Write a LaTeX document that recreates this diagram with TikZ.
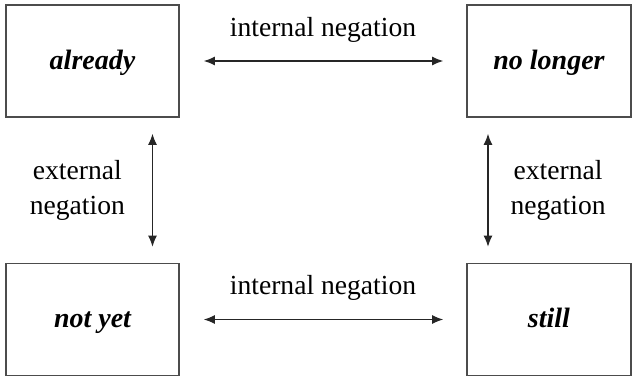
\documentclass[tikz,border=0pt]{standalone}
\usepackage{fontspec}
\setmainfont{Liberation Serif}
\usetikzlibrary{arrows.meta}

\begin{document}
\begin{tikzpicture}[x=0.5pt,y=-0.5pt,
    term/.style={draw=black!70,line width=0.8pt,minimum height=56pt,inner sep=0pt,
      text height=11pt,text depth=3pt,
      font=\fontsize{14}{16}\selectfont\bfseries\itshape},
    neg/.style={{Latex[length=5.5pt,width=4.5pt]}-{Latex[length=5.5pt,width=4.5pt]},line width=0.6pt,draw=black!85},
    lbl/.style={font=\fontsize{13.8}{17.5}\selectfont,align=center,inner sep=0pt}]
    \useasboundingbox (0,0) rectangle (632,376);
    \node[term,minimum width=86.5pt] (already) at (92.5,61) {already};
    \node[term,minimum width=82pt] (nolonger) at (549,61) {no longer};
    \node[term,minimum width=86.5pt] (notyet) at (92.5,319.5) {not yet};
    \node[term,minimum width=82pt] (still) at (549,319.5) {still};
    \draw[neg,shorten <=12pt,shorten >=11.5pt] (already) -- (nolonger)
      node[lbl,midway,above=9pt] {internal negation};
    \draw[neg,shorten <=12pt,shorten >=11.5pt] (notyet) -- (still)
      node[lbl,midway,above=9pt] {internal negation};
    \draw[neg,shorten <=8pt,shorten >=8pt] ([xshift=30pt]already.south) -- ([xshift=30pt]notyet.north)
      node[lbl,midway,left=13.5pt] {external\\negation};
    \draw[neg,shorten <=8pt,shorten >=8pt] ([xshift=-30.5pt]nolonger.south) -- ([xshift=-30.5pt]still.north)
      node[lbl,midway,right=11pt] {external\\negation};
\end{tikzpicture}
\end{document}
